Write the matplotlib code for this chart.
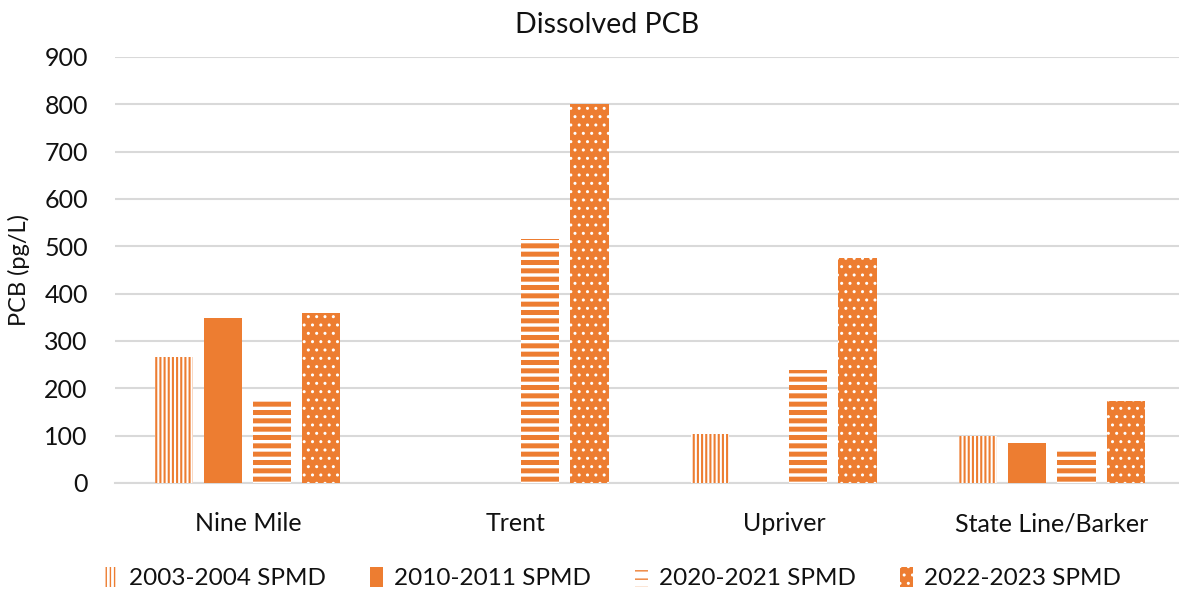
import numpy as np
import matplotlib
matplotlib.use('Agg')
import matplotlib.pyplot as plt
from matplotlib.patches import Patch

plt.rcParams['font.family'] = ['Lato', 'DejaVu Sans']

sites = ['Nine Mile', 'Trent', 'Upriver', 'State Line/Barker']
series = ['2003-2004 SPMD', '2010-2011 SPMD', '2020-2021 SPMD', '2022-2023 SPMD']
pcb_2003 = [266, np.nan, 104, 99]
pcb_2010 = [349, np.nan, np.nan, 85]
pcb_2020 = [175, 515, 239, 68]
pcb_2022 = [359, 800, 475, 173]
y_ticks = [0, 100, 200, 300, 400, 500, 600, 700, 800, 900]

ORANGE = '#ED7D31'
GRID = '#d9d9d9'
TEXT = '#111111'

# face, hatch colour (edge), hatch, hatch linewidth
styles = [
    ('white', ORANGE, '||||', 1.5),
    (ORANGE, ORANGE, None, 1.0),
    ('white', ORANGE, '--', 3.6),
    (ORANGE, 'white', '..', 1.0),
]

fig = plt.figure(figsize=(11.79, 5.93), dpi=100)
ax = fig.add_axes([0.0975, 0.1855, 0.9025, 0.7185])

x = np.arange(len(sites))
width = 0.142
step = 0.183
values = [pcb_2003, pcb_2010, pcb_2020, pcb_2022]
handles = []
for i, (vals, (face, edge, hatch, hlw)) in enumerate(zip(values, styles)):
    with plt.rc_context({'hatch.linewidth': hlw}):
        bars = ax.bar(x + (i - 1.5) * step, vals, width, color=face,
                      edgecolor=edge, hatch=hatch, linewidth=0, zorder=3)
        for b in bars:
            if hasattr(b, 'set_hatch_linewidth'):
                b.set_hatch_linewidth(hlw)
        h = Patch(facecolor=face, edgecolor=edge, hatch=hatch, linewidth=0,
                  label=series[i])
        if hasattr(h, 'set_hatch_linewidth'):
            h.set_hatch_linewidth(hlw)
        handles.append(h)

ax.set_xlim(-0.496, 3.474)
ax.set_ylim(0, 900)
ax.set_yticks(y_ticks)
ax.set_xticks(x)
ax.set_xticklabels(sites)
ax.grid(axis='y', color=GRID, linewidth=1.5, zorder=0)
for s in ['top', 'right', 'left']:
    ax.spines[s].set_visible(False)
ax.spines['bottom'].set_color(GRID)
ax.spines['bottom'].set_linewidth(1.5)
ax.tick_params(axis='both', length=0, labelsize=18, colors=TEXT)
ax.tick_params(axis='x', pad=21)
ax.tick_params(axis='y', pad=19.5)

ax.set_ylabel('PCB (pg/L)', fontsize=17, color=TEXT, labelpad=10)
fig.text(0.515, 0.958, 'Dissolved PCB', ha='center', va='center',
         fontsize=20.5, color=TEXT)

fig.legend(handles=handles, loc='center', bbox_to_anchor=(0.52, 0.025),
           ncol=4, frameon=False, fontsize=17.5, handlelength=0.55,
           handleheight=0.9, handletextpad=0.45, columnspacing=1.8,
           labelcolor=TEXT)

fig.savefig('out.png', dpi=100)
